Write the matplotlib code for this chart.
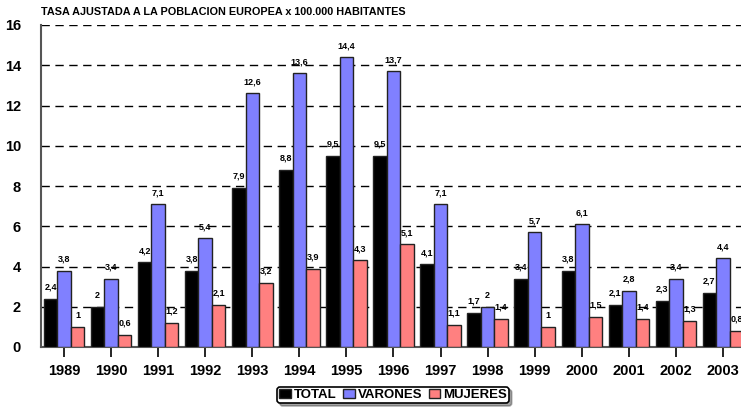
import matplotlib
matplotlib.use("Agg")
import matplotlib.pyplot as plt
import numpy as np

years = ["1989","1990","1991","1992","1993","1994","1995","1996","1997","1998","1999","2000","2001","2002","2003"]
total = [2.4, 2, 4.2, 3.8, 7.9, 8.8, 9.5, 9.5, 4.1, 1.7, 3.4, 3.8, 2.1, 2.3, 2.7]
varones = [3.8, 3.4, 7.1, 5.4, 12.6, 13.6, 14.4, 13.7, 7.1, 2, 5.7, 6.1, 2.8, 3.4, 4.4]
mujeres = [1, 0.6, 1.2, 2.1, 3.2, 3.9, 4.3, 5.1, 1.1, 1.4, 1, 1.5, 1.4, 1.3, 0.8]
series_names = ["TOTAL", "VARONES", "MUJERES"]
colors = ["#000000", "#8080FF", "#FF8080"]

plt.rcParams['font.family'] = ['Liberation Sans', 'DejaVu Sans']

fig = plt.figure(figsize=(7.41, 4.07), dpi=100)
W, H = 741, 407
ax = fig.add_axes([40.5/W, 60/H, 706/W, 322/H])

x = np.arange(len(years))
bw = 0.287
for i, (vals, name, c) in enumerate(zip([total, varones, mujeres], series_names, colors)):
    pos = x + (i - 1) * bw
    ax.bar(pos, vals, width=bw, color=c, edgecolor="#222222", linewidth=1.0, label=name, zorder=3)
    for p, v in zip(pos, vals):
        lbl = (f"{v:g}").replace(".", ",")
        ax.text(p, v + 0.35, lbl, ha="center", va="bottom", fontsize=6.5, fontweight="bold", zorder=4)

ax.set_xlim(-0.5, len(years) - 0.5)
ax.set_ylim(0, 16)
ax.set_yticks(range(0, 17, 2))
ax.set_yticklabels([str(v) for v in range(0, 17, 2)], fontsize=10.5, fontweight="bold")
ax.set_xticks(x)
ax.set_xticklabels(years, fontsize=10.5, fontweight="bold")
ax.tick_params(axis="x", length=7, width=1.2, direction="out", pad=5)
ax.tick_params(axis="y", length=0, pad=14)
for yv in range(2, 17, 2):
    ax.axhline(yv, color="black", linestyle=(0, (6, 4)), linewidth=1.0, zorder=1)
for s in ["top", "right"]:
    ax.spines[s].set_visible(False)
ax.spines["left"].set_color("#555555")
ax.spines["left"].set_linewidth(1.5)
ax.spines["bottom"].set_color("#555555")
ax.spines["bottom"].set_linewidth(1.5)

fig.text(41/W, 1 - 12/H, "TASA AJUSTADA A LA POBLACION EUROPEA x 100.000 HABITANTES",
         fontsize=7.8, fontweight="bold", ha="left", va="center")

leg = fig.legend(loc="center", bbox_to_anchor=(393/W, 1 - 395/H), ncol=3,
                 prop={"weight": "bold", "size": 9.5}, frameon=True, fancybox=True,
                 shadow=True, handlelength=0.9, handleheight=0.7, handletextpad=0.2,
                 columnspacing=0.5, borderpad=0.15, edgecolor="black")
leg.get_frame().set_linewidth(1.2)

fig.savefig("out.png", dpi=100)
